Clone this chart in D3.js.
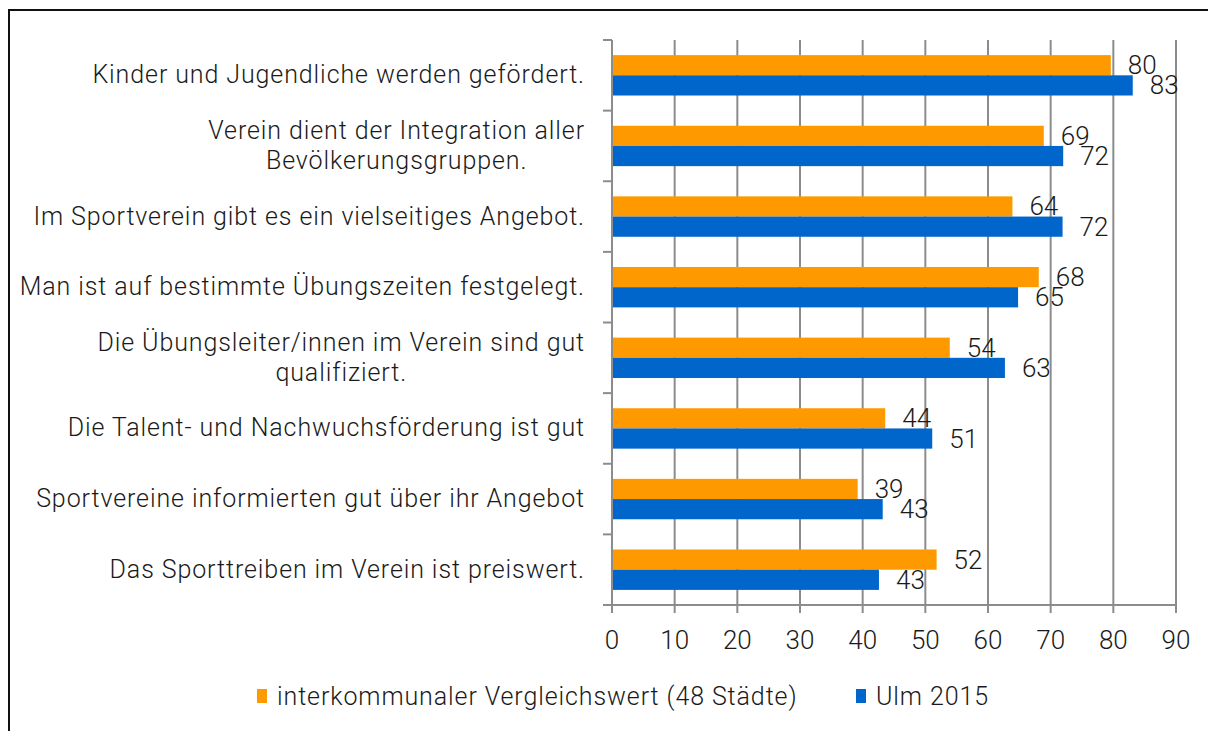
<!DOCTYPE html>
<html lang="de">
<head>
    <meta charset="UTF-8">
    <title>Sportverein Bewertung</title>
    <script src="https://cdn.jsdelivr.net/npm/d3@7"></script>
    <style>
        body { margin: 0; background: #fff; }
        svg text {
            font-family: Roboto, "Noto Sans", sans-serif;
            font-weight: 300;
            fill: #1a1a1a;
        }
        .lbl { letter-spacing: 0.9px; }
        .grid line, .axis line { stroke: #8c8c8c; stroke-width: 2px; }
    </style>
</head>
<body>
    <svg width="1208" height="731"></svg>

    <script>
        // Data
        const categories = [
            ["Kinder und Jugendliche werden gefördert."],
            ["Verein dient der Integration aller", "Bevölkerungsgruppen."],
            ["Im Sportverein gibt es ein vielseitiges Angebot."],
            ["Man ist auf bestimmte Übungszeiten festgelegt."],
            ["Die Übungsleiter/innen im Verein sind gut", "qualifiziert."],
            ["Die Talent- und Nachwuchsförderung ist gut"],
            ["Sportvereine informierten gut über ihr Angebot"],
            ["Das Sporttreiben im Verein ist preiswert."]
        ];
        const seriesNames = ["interkommunaler Vergleichswert (48 Städte)", "Ulm 2015"];
        const vergleich = [79.6, 68.9, 63.9, 68.1, 53.9, 43.6, 39.2, 51.8];
        const ulm = [83.1, 72.0, 71.9, 64.8, 62.7, 51.1, 43.2, 42.6];
        const xTicks = [0, 10, 20, 30, 40, 50, 60, 70, 80, 90];
        const colors = ["#ff9900", "#0066cc"];

        const svg = d3.select("svg");

        // outer frame (runs off the right and bottom edge)
        svg.append("rect")
            .attr("x", 9).attr("y", 10)
            .attr("width", 1260).attr("height", 800)
            .attr("fill", "none")
            .attr("stroke", "#111")
            .attr("stroke-width", 2);

        const plotL = 612, plotR = 1176, plotT = 40, plotB = 605;

        const x = d3.scaleLinear().domain([0, 90]).range([plotL, plotR]);
        const y = d3.scaleBand()
            .domain(d3.range(categories.length))
            .range([plotT, plotB])
            .paddingInner(0.428)
            .paddingOuter(0.214);
        const ySub = d3.scaleBand().domain([0, 1]).range([0, y.bandwidth()]);
        const step = y.step();

        // vertical gridlines
        svg.append("g").attr("class", "grid")
            .selectAll("line")
            .data(xTicks.slice(1))
            .enter().append("line")
            .attr("x1", d => x(d)).attr("x2", d => x(d))
            .attr("y1", plotT).attr("y2", plotB + 8);

        // bars
        const rows = categories.map((c, i) => [vergleich[i], ulm[i]]);
        const group = svg.append("g")
            .selectAll("g")
            .data(rows)
            .enter().append("g")
            .attr("transform", (d, i) => `translate(0,${y(i)})`);

        group.selectAll("rect")
            .data(d => d)
            .enter().append("rect")
            .attr("x", plotL)
            .attr("y", (d, j) => ySub(j))
            .attr("width", d => x(d) - plotL)
            .attr("height", ySub.bandwidth())
            .attr("fill", (d, j) => colors[j]);

        group.selectAll("text.val")
            .data(d => d)
            .enter().append("text")
            .attr("class", "val")
            .attr("x", d => x(d) + 17)
            .attr("y", (d, j) => ySub(j) + ySub.bandwidth() / 2 + 9)
            .attr("font-size", 26)
            .text(d => Math.round(d));

        // axes
        const axis = svg.append("g").attr("class", "axis");
        axis.append("line")
            .attr("x1", plotL).attr("x2", plotL)
            .attr("y1", plotT).attr("y2", plotB + 8);
        axis.append("line")
            .attr("x1", plotL - 9).attr("x2", plotR)
            .attr("y1", plotB).attr("y2", plotB);
        axis.selectAll("line.cat")
            .data(d3.range(categories.length + 1))
            .enter().append("line")
            .attr("class", "cat")
            .attr("x1", plotL - 9).attr("x2", plotL)
            .attr("y1", i => plotT + i * step).attr("y2", i => plotT + i * step);

        axis.selectAll("text.tick")
            .data(xTicks)
            .enter().append("text")
            .attr("class", "tick")
            .attr("x", d => x(d))
            .attr("y", 649)
            .attr("text-anchor", "middle")
            .attr("font-size", 26)
            .text(d => d);

        // category labels: block right-aligned, lines centred within it
        const labelRight = 585;
        svg.append("g")
            .selectAll("text")
            .data(categories)
            .enter().append("text")
            .attr("class", "lbl")
            .attr("font-size", 25)
            .each(function(lines, i) {
                const c = plotT + (i + 0.5) * step;
                const t = d3.select(this);
                const spans = t.selectAll("tspan")
                    .data(lines)
                    .enter().append("tspan")
                    .attr("y", (l, k) => c + 8 + (k - (lines.length - 1) / 2) * 30)
                    .text(l => l);
                const w = d3.max(spans.nodes(), n => n.getComputedTextLength());
                spans.attr("x", labelRight - w / 2).attr("text-anchor", "middle");
            });

        // legend
        const legendX = [257, 856];
        const legend = svg.append("g")
            .selectAll("g")
            .data(seriesNames)
            .enter().append("g")
            .attr("transform", (d, i) => `translate(${legendX[i]},689)`);
        legend.append("rect")
            .attr("width", 10).attr("height", 14)
            .attr("fill", (d, i) => colors[i]);
        legend.append("text")
            .attr("class", "lbl")
            .attr("x", 20).attr("y", 16)
            .attr("font-size", 25)
            .text(d => d);
    </script>
</body>
</html>
